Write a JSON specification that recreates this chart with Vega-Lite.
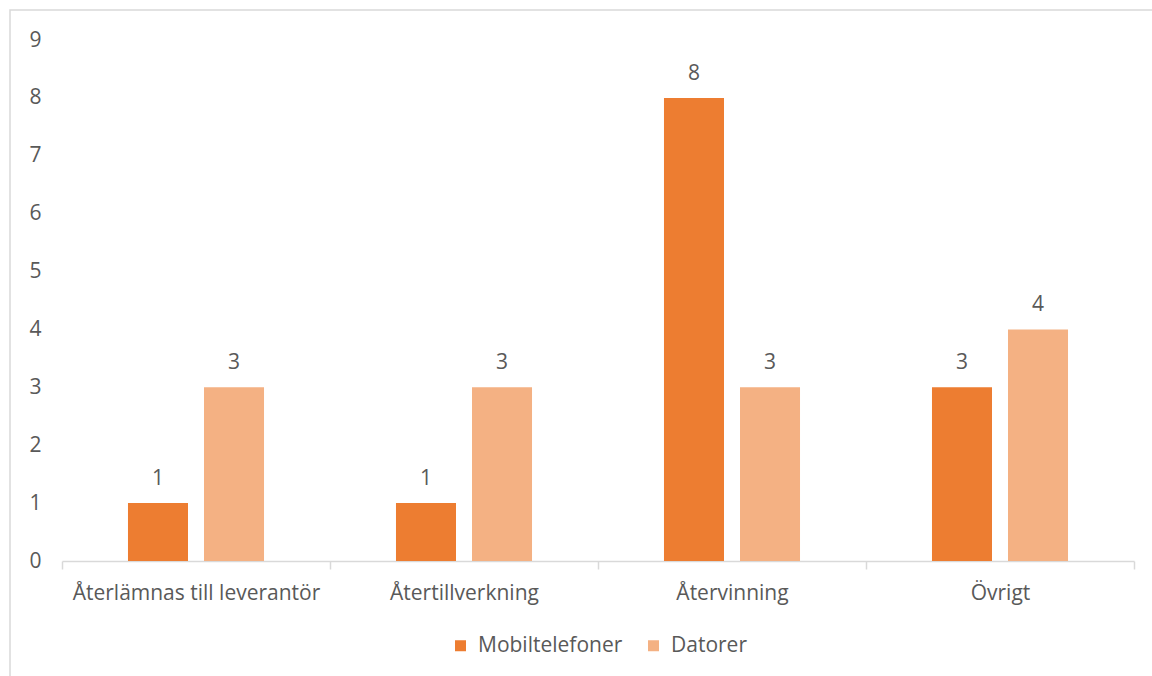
{
  "$schema": "https://vega.github.io/schema/vega-lite/v6.json",
  "width": 1072,
  "height": 521,
  "autosize": {"type": "none"},
  "padding": {"left": 62, "top": 40, "right": 18, "bottom": 115},
  "background": "white",
  "config": {
    "view": {"stroke": null},
    "font": "Open Sans",
    "legend": {"layout": {"bottom": {"anchor": "middle"}}}
  },
  "data": {
    "values": [
      {"kategori": "Återlämnas till leverantör", "serie": "Mobiltelefoner", "antal": 1},
      {"kategori": "Återlämnas till leverantör", "serie": "Datorer", "antal": 3},
      {"kategori": "Återtillverkning", "serie": "Mobiltelefoner", "antal": 1},
      {"kategori": "Återtillverkning", "serie": "Datorer", "antal": 3},
      {"kategori": "Återvinning", "serie": "Mobiltelefoner", "antal": 8},
      {"kategori": "Återvinning", "serie": "Datorer", "antal": 3},
      {"kategori": "Övrigt", "serie": "Mobiltelefoner", "antal": 3},
      {"kategori": "Övrigt", "serie": "Datorer", "antal": 4}
    ]
  },
  "resolve": {"scale": {"x": "independent", "y": "independent"}},
  "layer": [
    {
      "data": {"values": [{"a": 0, "b": 1}]},
      "mark": {"type": "rect", "fill": null, "stroke": "#D9D9D9", "strokeWidth": 1.5},
      "encoding": {
        "x": {"field": "a", "type": "quantitative", "scale": {"domain": [0, 1], "range": [-52, 1110]}, "axis": null},
        "x2": {"field": "b"},
        "y": {"field": "a", "type": "quantitative", "scale": {"domain": [0, 1], "range": [-30, 700]}, "axis": null},
        "y2": {"field": "b"}
      }
    },
    {
      "encoding": {
        "x": {
          "field": "kategori",
          "type": "nominal",
          "sort": ["Återlämnas till leverantör", "Återtillverkning", "Återvinning", "Övrigt"],
          "scale": {"paddingInner": 0, "paddingOuter": 0},
          "axis": {
            "title": null,
            "labelAngle": 0,
            "labelFontSize": 21,
            "labelColor": "#595959",
            "labelPadding": 13,
            "labelLimit": 0,
            "domainColor": "#D9D9D9",
            "domainWidth": 1.5,
            "tickColor": "#D9D9D9",
            "tickWidth": 1.5,
            "tickSize": 8,
            "tickBand": "extent",
            "grid": false
          }
        },
        "xOffset": {
          "field": "serie",
          "type": "nominal",
          "sort": ["Mobiltelefoner", "Datorer"],
          "scale": {"paddingInner": 0.2105, "paddingOuter": 0.868}
        },
        "y": {
          "field": "antal",
          "type": "quantitative",
          "scale": {"domain": [0, 9], "nice": false},
          "axis": {
            "title": null,
            "values": [0, 1, 2, 3, 4, 5, 6, 7, 8, 9],
            "domain": false,
            "ticks": false,
            "tickSize": 0,
            "labelPadding": 21,
            "labelFontSize": 21,
            "labelColor": "#595959",
            "gridColor": "#D9D9D9",
            "gridWidth": 1.5
          }
        }
      },
      "layer": [
        {
          "mark": {"type": "bar"},
          "encoding": {
            "color": {
              "field": "serie",
              "type": "nominal",
              "sort": ["Mobiltelefoner", "Datorer"],
              "scale": {"domain": ["Mobiltelefoner", "Datorer"], "range": ["#ED7D31", "#F4B183"]},
              "legend": {
                "title": null,
                "orient": "bottom",
                "direction": "horizontal",
                "symbolType": "square",
                "symbolSize": 121,
                "symbolStrokeWidth": 0,
                "labelFontSize": 21,
                "labelColor": "#595959",
                "labelOffset": 7,
                "columnPadding": 20,
                "offset": 32
              }
            }
          }
        },
        {
          "mark": {"type": "text", "baseline": "alphabetic", "dy": -18, "fontSize": 21, "fill": "#595959"},
          "encoding": {"text": {"field": "antal", "type": "quantitative"}}
        }
      ]
    }
  ]
}
